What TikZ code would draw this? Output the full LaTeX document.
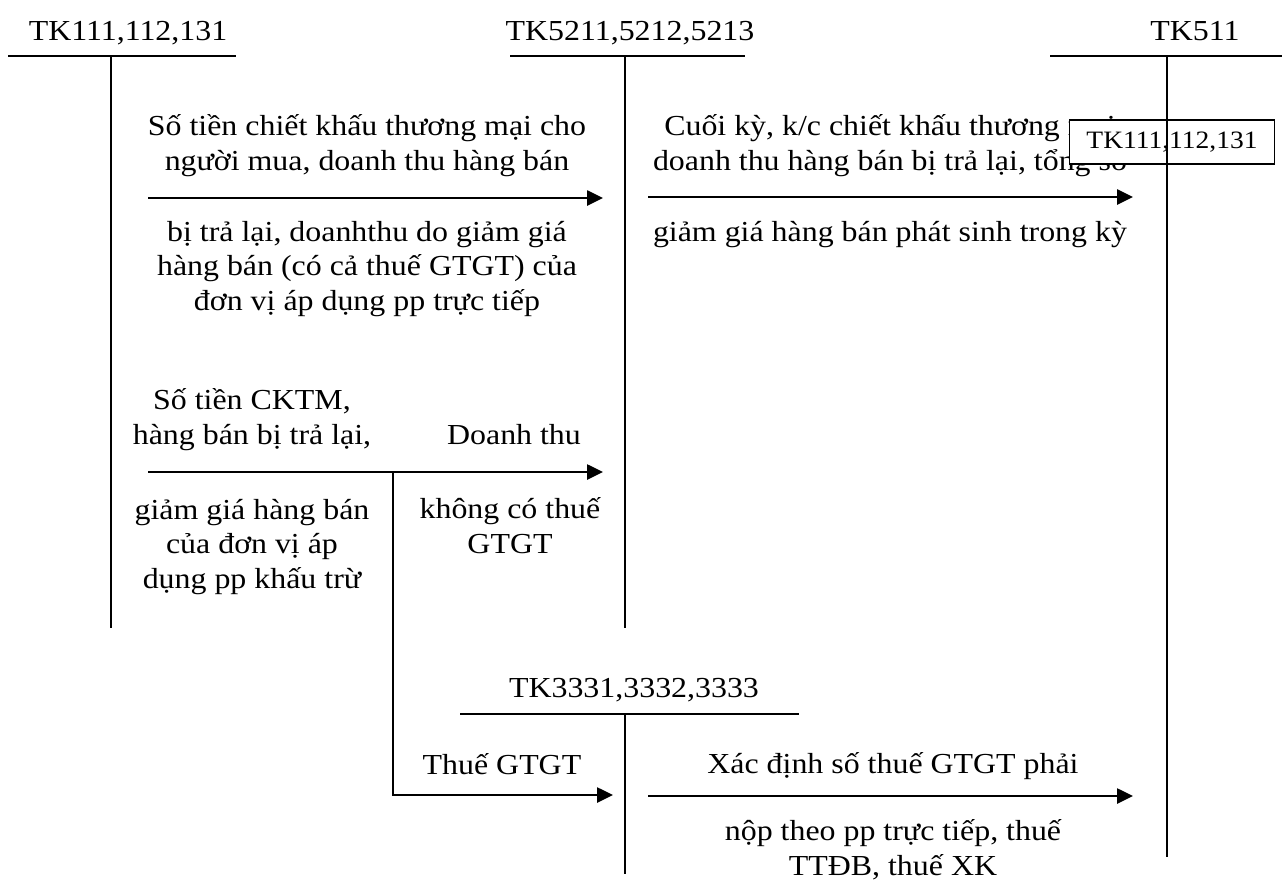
\documentclass[tikz,border=0pt]{standalone}
\usepackage{fontspec}
\setmainfont{Liberation Serif}[FakeStretch=1.1]
\usetikzlibrary{arrows.meta}
\begin{document}
\begin{tikzpicture}[x=1pt,y=1pt,
  acct/.style={line width=2.4pt},
  stem/.style={line width=2pt},
  flow/.style={line width=2.6pt,-{Triangle[length=16pt,width=15pt]}},
  % multi-line texts: the base anchor sits on the last line
  txt/.style={font=\fontsize{29}{34.5}\selectfont, inner sep=0pt, align=center, anchor=base},
  boxed/.style={draw, fill=white, line width=1.4pt, font=\fontsize{25}{28}\selectfont,
    minimum width=205pt, minimum height=44pt, inner sep=0pt}
]
\useasboundingbox (0,0) rectangle (1282,-889);

% account titles
\node[txt] (t111) at (128,-40) {TK111,112,131};
\node[txt] (t521) at (630,-40) {TK5211,5212,5213};
\node[txt] (t511) at (1195,-40) {TK511};
\node[txt] (t333) at (634,-697) {TK3331,3332,3333};

% T-account bars and stems
\coordinate (a1l) at (8,-56);    \coordinate (a1r) at (236,-56);
\coordinate (a1t) at (111,-56);  \coordinate (a1b) at (111,-628);
\coordinate (a2l) at (510,-56);  \coordinate (a2r) at (745,-56);
\coordinate (a2t) at (625,-56);  \coordinate (a2b) at (625,-628);
\coordinate (a3l) at (1050,-56); \coordinate (a3r) at (1282,-56);
\coordinate (a3t) at (1167,-56); \coordinate (a3b) at (1167,-857);
\coordinate (a4l) at (460,-714); \coordinate (a4r) at (799,-714);
\coordinate (a4t) at (625,-714); \coordinate (a4b) at (625,-874);

\draw[acct] (a1l) -- (a1r);
\draw[acct] (a2l) -- (a2r);
\draw[acct] (a3l) -- (a3r);
\draw[acct] (a4l) -- (a4r);
\draw[stem] (a1t) -- (a1b);
\draw[stem] (a2t) -- (a2b);
\draw[stem] (a4t) -- (a4b);

% flow texts
\node[txt] (n1a) at (367,-170) {Số tiền chiết khấu thương mại cho\\người mua, doanh thu hàng bán};
\node[txt] (n1b) at (367,-310) {bị trả lại, doanhthu do giảm giá\\hàng bán (có cả thuế GTGT) của\\đơn vị áp dụng pp trực tiếp};
\node[txt] (n2a) at (890,-170) {Cuối kỳ, k/c chiết khấu thương mại\\doanh thu hàng bán bị trả lại, tổng số};
\node[txt] (n2b) at (890,-241) {giảm giá hàng bán phát sinh trong kỳ};
\node[txt] (n3a) at (252,-444) {Số tiền CKTM,\\hàng bán bị trả lại,};
\node[txt] (n3c) at (514,-444) {Doanh thu};
\node[txt] (n3b) at (252,-588) {giảm giá hàng bán\\của đơn vị áp\\dụng pp khấu trừ};
\node[txt] (n3d) at (510,-553) {không có thuế\\GTGT};
\node[txt] (n4) at (502,-774) {Thuế GTGT};
\node[txt] (n5a) at (893,-773) {Xác định số thuế GTGT phải};
\node[txt] (n5b) at (893,-875) {nộp theo pp trực tiếp, thuế\\TTĐB, thuế XK};

% flows
\coordinate (f1s) at (148,-198); \coordinate (f1e) at (603,-198);
\coordinate (f2s) at (648,-197); \coordinate (f2e) at (1133,-197);
\coordinate (f3s) at (148,-472); \coordinate (f3e) at (603,-472);
\coordinate (f3k) at (393,-472); \coordinate (f4e) at (613,-795);
\coordinate (f5s) at (648,-796); \coordinate (f5e) at (1133,-796);

\draw[flow] (f1s) -- (f1e);
\draw[flow] (f2s) -- (f2e);
\draw[flow] (f3s) -- (f3e);
\draw[flow] (f3k) |- (f4e);
\draw[flow] (f5s) -- (f5e);

% boxed account label over the TK511 side
\node[boxed] (bx) at (1172,-142) {TK111,112,131};
\draw[stem] (a3t) -- (a3b);
\end{tikzpicture}
\end{document}
